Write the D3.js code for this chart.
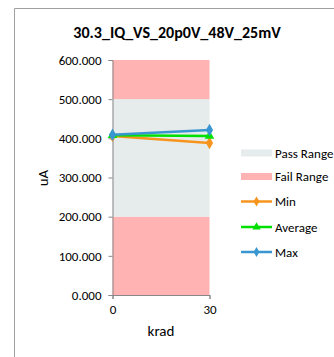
<!DOCTYPE html>
<html><head><meta charset="utf-8">
<script src="https://cdn.jsdelivr.net/npm/d3@7"></script>
<style>body{margin:0;background:#fff}svg{display:block}text{font-family:Carlito,"Liberation Sans",Arial,sans-serif}</style>
</head><body><svg id="c" width="334" height="357"></svg>
<script>
const title = "30.3_IQ_VS_20p0V_48V_25mV";
const xValues = [0, 30];
const xTicks = [0, 30];
const yTicks = [0, 100, 200, 300, 400, 500, 600];
const passRange = [200, 500];
const failLow = [0, 200];
const failHigh = [500, 600];
const minVals = [406, 388];
const avgVals = [408, 406];
const maxVals = [409, 421];
const seriesNames = ["Min", "Average", "Max"];
const seriesColors = ["#F7941D", "#00E000", "#3A96D0"];
const seriesShapes = [d3.symbolDiamond, d3.symbolTriangle, d3.symbolDiamond];

const FONT = "Carlito, 'Liberation Sans', Arial, sans-serif";
const svg = d3.select("#c");
const x = d3.scaleLinear().domain([0, 30]).range([112.5, 209.5]);
const y = d3.scaleLinear().domain([0, 600]).range([295, 60]);

// frame
svg.append("path").attr("d", "M14.5,357 V8.5 H334").attr("fill", "none").attr("stroke", "#a0a0a0").attr("stroke-width", 1);

svg.append("text").attr("x", 177).attr("y", 38).attr("text-anchor", "middle")
  .attr("font-size", 16).attr("font-weight", "bold").text(title);

// bands
const bands = [[failLow, "#FFB3B3"], [passRange, "#E6EBEB"], [failHigh, "#FFB3B3"]];
bands.forEach(([r, c]) => {
  svg.append("rect").attr("x", x(0)).attr("width", x(30) - x(0))
    .attr("y", y(r[1])).attr("height", y(r[0]) - y(r[1])).attr("fill", c);
});

// axes
const ya = svg.append("g").attr("transform", `translate(${x(0)},0)`)
  .call(d3.axisLeft(y).tickValues(yTicks).tickFormat(d3.format(".3f")).tickSize(4).tickPadding(7));
ya.select(".domain").attr("stroke", "#888");
ya.selectAll(".tick line").attr("stroke", "#888");
ya.selectAll("text").attr("font-size", 13).attr("fill", "#000").style("font-family", FONT);

const xa = svg.append("g").attr("transform", `translate(0,${y(0)})`)
  .call(d3.axisBottom(x).tickValues(xTicks).tickFormat(d3.format("d")).tickSize(4).tickPadding(6));
xa.select(".domain").attr("stroke", "#888");
xa.selectAll(".tick line").attr("stroke", "#888");
xa.selectAll("text").attr("font-size", 13).attr("fill", "#000").style("font-family", FONT);

svg.append("text").attr("transform", "translate(48,178) rotate(-90)").attr("text-anchor", "middle")
  .attr("font-size", 15).text("uA");
svg.append("text").attr("x", 161).attr("y", 336).attr("text-anchor", "middle")
  .attr("font-size", 15).text("krad");

// series
const allSeries = [minVals, avgVals, maxVals];
const line = d3.line().x((d, i) => x(xValues[i])).y(d => y(d));
allSeries.forEach((vals, k) => {
  svg.append("path").datum(vals).attr("d", line).attr("fill", "none")
    .attr("stroke", seriesColors[k]).attr("stroke-width", 2.5);
});
allSeries.forEach((vals, k) => {
  vals.forEach((v, i) => {
    svg.append("path").attr("d", d3.symbol().type(seriesShapes[k]).size(k === 1 ? 40 : 45)())
      .attr("transform", `translate(${x(xValues[i])},${y(v)})`).attr("fill", seriesColors[k]);
  });
});

// legend
const lx = 241, lw = 31, tx = 275;
const legItems = [
  {name: "Pass Range", type: "rect", color: "#E6EBEB", y: 153},
  {name: "Fail Range", type: "rect", color: "#FFB3B3", y: 176.5},
  {name: seriesNames[0], type: "line", color: seriesColors[0], shape: seriesShapes[0], y: 201.5},
  {name: seriesNames[1], type: "line", color: seriesColors[1], shape: seriesShapes[1], y: 227},
  {name: seriesNames[2], type: "line", color: seriesColors[2], shape: seriesShapes[2], y: 252}
];
legItems.forEach(it => {
  if (it.type === "rect") {
    svg.append("rect").attr("x", lx).attr("y", it.y - 3.5).attr("width", lw).attr("height", 7).attr("fill", it.color);
  } else {
    svg.append("line").attr("x1", lx).attr("x2", lx + lw).attr("y1", it.y).attr("y2", it.y)
      .attr("stroke", it.color).attr("stroke-width", 2.5);
    svg.append("path").attr("d", d3.symbol().type(it.shape).size(30)())
      .attr("transform", `translate(${lx + lw / 2},${it.y})`).attr("fill", it.color);
  }
  svg.append("text").attr("x", tx).attr("y", it.y + 4.5).attr("font-size", 13).text(it.name);
});
</script></body></html>
